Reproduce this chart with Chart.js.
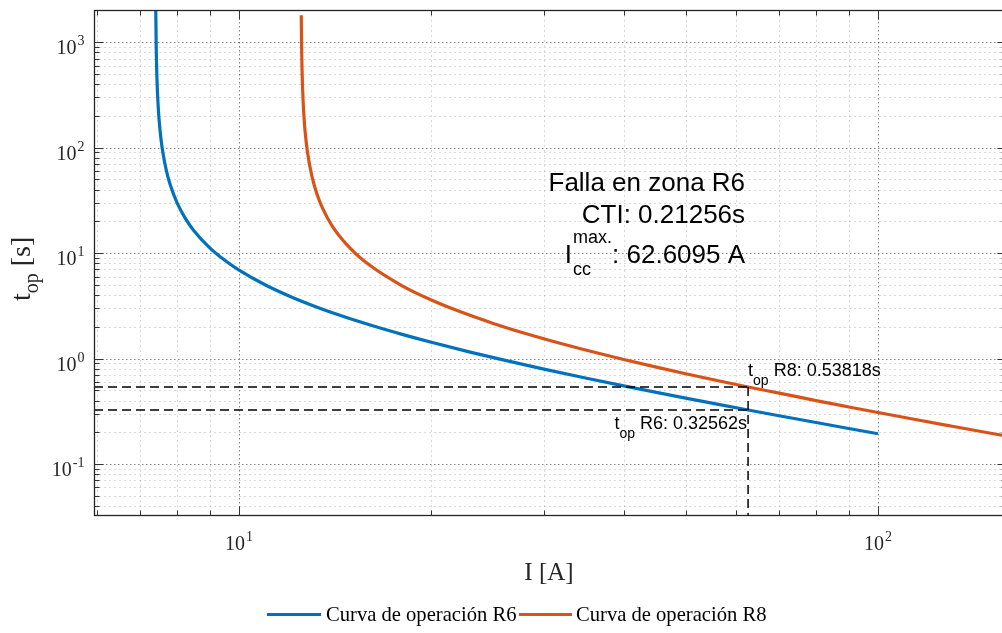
<!DOCTYPE html>
<html>
<head>
<meta charset="utf-8">
<script src="https://cdn.jsdelivr.net/npm/chart.js@4.4.1/dist/chart.umd.min.js"></script>
<style>
  html, body { margin: 0; padding: 0; background: #fff; overflow: hidden; }
  #wrap { width: 1010px; height: 633px; position: relative; }
</style>
</head>
<body>
<div id="wrap"><canvas id="cnv"></canvas></div>
<script>
// operating curves
const currentR6 = [7.4089, 7.41, 7.42, 7.44, 7.47, 7.5, 7.55, 7.6, 7.7, 7.8, 8.0, 8.25, 8.5, 9.0, 9.5,
  10, 11, 12, 13, 14, 16, 18, 20, 23, 26, 30, 35, 40, 45, 50, 56, 62.61, 70, 80, 90, 100];
const timeR6 = [2020, 1797, 898.7, 449.4, 256.8, 179.7, 119.8, 89.87, 59.91, 44.94, 29.96, 21.15, 16.34, 11.23, 8.559,
  6.913, 4.993, 3.907, 3.210, 2.723, 2.090, 1.696, 1.427, 1.152, 0.9663, 0.7953, 0.6512, 0.5514, 0.4780, 0.4219, 0.3698, 0.3256, 0.2871, 0.2476, 0.2176, 0.1941];
const currentR8 = [12.515, 12.52, 12.53, 12.55, 12.6, 12.65, 12.7, 12.8, 13.0, 13.25, 13.5, 14, 15, 16, 18,
  20, 22, 25, 28, 32, 36, 40, 45, 50, 56, 62.61, 70, 80, 90, 100, 115, 130, 145, 158.6];
const timeR8 = [1798, 1348, 898.9, 539.4, 269.7, 179.8, 134.8, 89.89, 53.94, 35.96, 26.97, 17.98, 10.79, 7.705, 4.903,
  3.596, 2.839, 2.157, 1.740, 1.383, 1.148, 0.9807, 0.8298, 0.7191, 0.6199, 0.5382, 0.4714, 0.3995, 0.3480, 0.3082, 0.2630, 0.2295, 0.2035, 0.1846];

const faultCurrent = 62.6095;
const topR6 = 0.32562;
const topR8 = 0.53818;
const cti = 0.21256;

const xLimits = [5.93, 158.6];
const yLimits = [0.0329, 2020];
const xMajorTicks = [10, 100];
const xMajorExp = ['1', '2'];
const yMajorTicks = [0.1, 1, 10, 100, 1000];
const yMajorExp = ['-1', '0', '1', '2', '3'];
const seriesNames = ['Curva de operación R6', 'Curva de operación R8'];
const seriesColors = ['#0072BD', '#D95319'];

function minorTicks(lo, hi) {
  const out = [];
  for (let d = Math.floor(Math.log10(lo)); d <= Math.ceil(Math.log10(hi)); d++) {
    for (let k = 2; k <= 9; k++) {
      const v = k * Math.pow(10, d);
      if (v >= lo && v <= hi) out.push(v);
    }
  }
  return out;
}
const xMinorTicks = minorTicks(xLimits[0], xLimits[1]);
const yMinorTicks = minorTicks(yLimits[0], yLimits[1]);

const SERIF = '"Liberation Serif", "Times New Roman", serif';
const SANS = '"Liberation Sans", Arial, sans-serif';

function line(ctx, x1, y1, x2, y2) {
  ctx.beginPath(); ctx.moveTo(x1, y1); ctx.lineTo(x2, y2); ctx.stroke();
}

// "10" with exponent; align is 'right' or 'center'
function powLabel(ctx, exp, x, y, align, supRise) {
  ctx.font = '20px ' + SERIF;
  const w1 = ctx.measureText('10').width;
  ctx.font = '14px ' + SERIF;
  const w2 = ctx.measureText(exp).width;
  const w = w1 + w2 + 1;
  const x0 = align === 'right' ? x - w : x - w / 2;
  ctx.textAlign = 'left';
  ctx.font = '20px ' + SERIF;
  ctx.fillText('10', x0, y);
  ctx.font = '14px ' + SERIF;
  ctx.fillText(exp, x0 + w1 + 1, y - supRise);
}

const axesPlugin = {
  id: 'matlabAxes',
  beforeDatasetsDraw(chart) {
    const { ctx, chartArea: a, scales: { x, y } } = chart;
    ctx.save();
    ctx.lineWidth = 1;
    ctx.setLineDash([2, 3]);
    ctx.strokeStyle = 'rgba(38,38,38,0.17)';
    xMinorTicks.forEach(v => { const p = Math.round(x.getPixelForValue(v)) + 0.5; line(ctx, p, a.top, p, a.bottom); });
    yMinorTicks.forEach(v => { const p = Math.round(y.getPixelForValue(v)) + 0.5; line(ctx, a.left, p, a.right, p); });
    ctx.strokeStyle = 'rgba(38,38,38,0.55)';
    ctx.setLineDash([1.5, 2.5]);
    xMajorTicks.forEach(v => { const p = Math.round(x.getPixelForValue(v)) + 0.5; line(ctx, p, a.top, p, a.bottom); });
    yMajorTicks.forEach(v => { const p = Math.round(y.getPixelForValue(v)) + 0.5; line(ctx, a.left, p, a.right, p); });
    ctx.restore();
  },
  afterDatasetsDraw(chart) {
    const { ctx, chartArea: a, scales: { x, y } } = chart;
    ctx.save();
    ctx.setLineDash([]);
    ctx.strokeStyle = '#333';
    ctx.lineWidth = 1;
    const L = Math.round(a.left) + 0.5, R = Math.round(a.right) + 0.5;
    const T = Math.round(a.top) + 0.5, B = Math.round(a.bottom) + 0.5;
    // tick marks (inward, all four sides)
    xMinorTicks.forEach(v => { const p = Math.round(x.getPixelForValue(v)) + 0.5; line(ctx, p, B, p, B - 5); line(ctx, p, T, p, T + 5); });
    xMajorTicks.forEach(v => { const p = Math.round(x.getPixelForValue(v)) + 0.5; line(ctx, p, B, p, B - 9); line(ctx, p, T, p, T + 9); });
    yMinorTicks.forEach(v => { const p = Math.round(y.getPixelForValue(v)) + 0.5; line(ctx, L, p, L + 5, p); line(ctx, R, p, R - 5, p); });
    yMajorTicks.forEach(v => { const p = Math.round(y.getPixelForValue(v)) + 0.5; line(ctx, L, p, L + 9, p); line(ctx, R, p, R - 9, p); });
    // box
    ctx.strokeStyle = '#262626';
    ctx.lineWidth = 1.3;
    ctx.strokeRect(L, T, R - L, B - T);

    // tick labels
    ctx.fillStyle = '#262626';
    ctx.textBaseline = 'alphabetic';
    xMajorTicks.forEach((v, i) => powLabel(ctx, xMajorExp[i], x.getPixelForValue(v), B + 34, 'center', 9));
    yMajorTicks.forEach((v, i) => powLabel(ctx, yMajorExp[i], L - 10, y.getPixelForValue(v) + 12, 'right', 9));

    // axis titles
    ctx.font = '25px ' + SERIF;
    ctx.textAlign = 'center';
    ctx.fillText('I [A]', (a.left + a.right) / 2 - 1, 580);
    ctx.save();
    ctx.translate(30, 301);
    ctx.rotate(-Math.PI / 2);
    ctx.textAlign = 'left';
    ctx.font = '28px ' + SERIF;
    ctx.fillText('t', 0, 0);
    const wt = ctx.measureText('t').width;
    ctx.font = '20px ' + SERIF;
    ctx.fillText('op', wt, 8);
    const wop = ctx.measureText('op').width;
    ctx.font = '28px ' + SERIF;
    ctx.fillText(' [s]', wt + wop, 0);
    ctx.restore();

    // annotations
    const px = x.getPixelForValue(faultCurrent);
    ctx.fillStyle = '#000';
    ctx.font = '26px ' + SANS;
    ctx.textAlign = 'right';
    ctx.fillText('Falla en zona R6', px - 3, 191);
    ctx.fillText('CTI: ' + cti + 's', px - 3, 223);
    // I_cc^max line
    const rest = ': ' + faultCurrent + ' A';
    const wRest = ctx.measureText(rest).width;
    ctx.fillText(rest, px - 3, 263);
    ctx.font = '18px ' + SANS;
    const wSup = Math.max(ctx.measureText('max.').width, ctx.measureText('cc').width);
    ctx.textAlign = 'left';
    const xs = px - 3 - wRest - wSup;
    ctx.fillText('max.', xs, 243);
    ctx.fillText('cc', xs, 275);
    ctx.font = '26px ' + SANS;
    ctx.textAlign = 'right';
    ctx.fillText('I', xs - 1, 263);

    // t_op labels
    function topWidth(txt) {
      ctx.font = '18px ' + SANS;
      let w = ctx.measureText('t').width + ctx.measureText(txt).width;
      ctx.font = '14px ' + SANS;
      return w + ctx.measureText('op').width;
    }
    function topLabel(txt, xLeft, yBase) {
      ctx.textAlign = 'left';
      ctx.font = '18px ' + SANS;
      ctx.fillText('t', xLeft, yBase);
      const w1 = ctx.measureText('t').width;
      ctx.font = '14px ' + SANS;
      ctx.fillText('op', xLeft + w1, yBase + 9);
      const w2 = ctx.measureText('op').width;
      ctx.font = '18px ' + SANS;
      ctx.fillText(txt, xLeft + w1 + w2, yBase);
    }
    const txt8 = ' R8: ' + topR8 + 's';
    const txt6 = ' R6: ' + topR6 + 's';
    topLabel(txt8, px, y.getPixelForValue(topR8) - 11);
    topLabel(txt6, px - 1 - topWidth(txt6), y.getPixelForValue(topR6) + 19);

    // legend
    const legendItems = [[267, 321, 326], [519, 572, 576]];
    legendItems.forEach((it, i) => {
      ctx.strokeStyle = seriesColors[i];
      ctx.lineWidth = 3;
      line(ctx, it[0], 614.5, it[1], 614.5);
      ctx.fillStyle = '#000';
      ctx.font = '20.6px ' + SERIF;
      ctx.textAlign = 'left';
      ctx.fillText(seriesNames[i], it[2], 621);
    });
    ctx.restore();
  }
};

const toPoints = (xs, ys) => xs.map((v, i) => ({ x: v, y: ys[i] }));

new Chart(document.getElementById('cnv'), {
  type: 'scatter',
  data: {
    datasets: [
      { label: 'h8', data: [{ x: xLimits[0], y: topR8 }, { x: faultCurrent, y: topR8 }], borderColor: '#000', borderWidth: 1.5, borderDash: [9, 5], showLine: true, pointRadius: 0, order: 0 },
      { label: 'h6', data: [{ x: xLimits[0], y: topR6 }, { x: faultCurrent, y: topR6 }], borderColor: '#000', borderWidth: 1.5, borderDash: [9, 5], showLine: true, pointRadius: 0, order: 0 },
      { label: 'v', data: [{ x: faultCurrent, y: topR8 }, { x: faultCurrent, y: yLimits[0] }], borderColor: '#000', borderWidth: 1.5, borderDash: [9, 5], showLine: true, pointRadius: 0, order: 0 },
      { label: seriesNames[0], data: toPoints(currentR6, timeR6), borderColor: seriesColors[0], borderWidth: 3.2, showLine: true, pointRadius: 0, cubicInterpolationMode: 'monotone', order: 1 },
      { label: seriesNames[1], data: toPoints(currentR8, timeR8), borderColor: seriesColors[1], borderWidth: 3.2, showLine: true, pointRadius: 0, cubicInterpolationMode: 'monotone', order: 1 }
    ]
  },
  options: {
    responsive: true,
    maintainAspectRatio: false,
    animation: false,
    devicePixelRatio: 1,
    layout: { padding: { left: 94, top: 10, right: 4, bottom: 118 } },
    scales: {
      x: { type: 'logarithmic', min: xLimits[0], max: xLimits[1], display: false },
      y: { type: 'logarithmic', min: yLimits[0], max: yLimits[1], display: false }
    },
    plugins: { legend: { display: false }, tooltip: { enabled: false } }
  },
  plugins: [axesPlugin]
});
</script>
</body>
</html>
